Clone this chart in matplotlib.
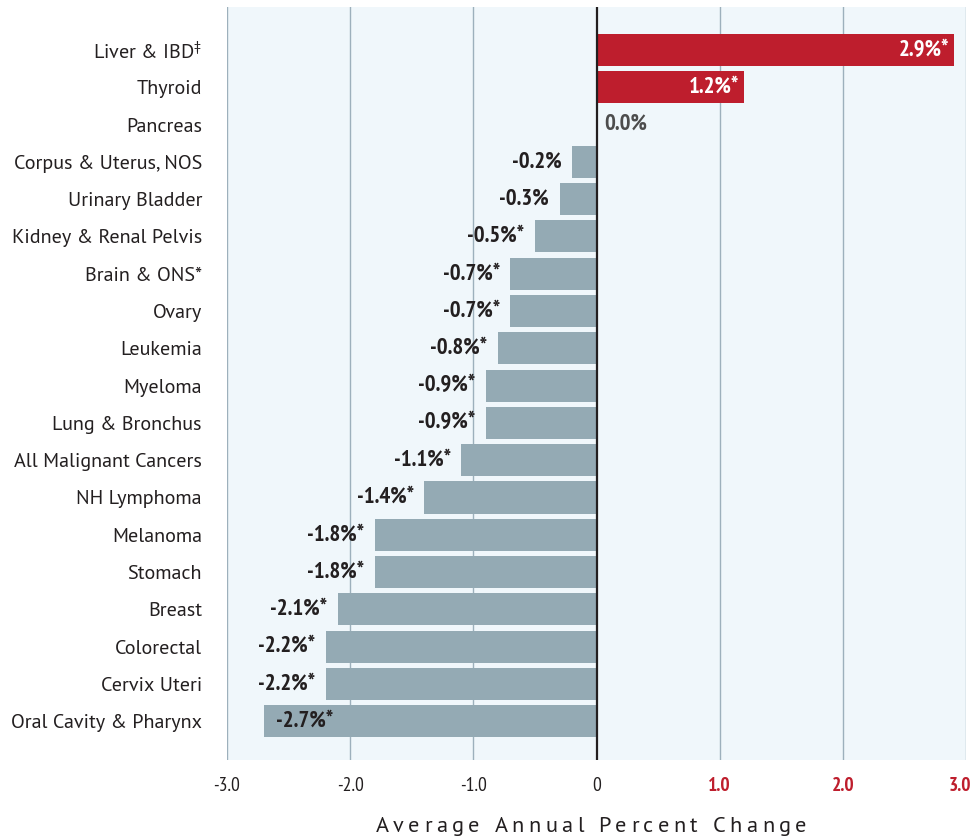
import matplotlib
matplotlib.use('Agg')
import matplotlib.pyplot as plt
from matplotlib import font_manager
from matplotlib.font_manager import FontProperties

# Data
categories = ['Liver & IBD$^{\u2021}$', 'Thyroid', 'Pancreas', 'Corpus & Uterus, NOS',
              'Urinary Bladder', 'Kidney & Renal Pelvis', 'Brain & ONS*', 'Ovary',
              'Leukemia', 'Myeloma', 'Lung & Bronchus', 'All Malignant Cancers',
              'NH Lymphoma', 'Melanoma', 'Stomach', 'Breast', 'Colorectal',
              'Cervix Uteri', 'Oral Cavity & Pharynx']
values = [2.9, 1.2, 0.0, -0.2, -0.3, -0.5, -0.7, -0.7, -0.8, -0.9, -0.9,
          -1.1, -1.4, -1.8, -1.8, -2.1, -2.2, -2.2, -2.7]
significant = [True, True, False, False, False, True, True, True, True, True, True,
               True, True, True, True, True, True, True, True]
xticks = [-3, -2, -1, 0, 1, 2, 3]
xtick_labels = ['-3.0', '-2.0', '-1.0', '0', '1.0', '2.0', '3.0']
xlabel = 'Average Annual Percent Change'

names = {f.name for f in font_manager.fontManager.ttflist}
candidates = ['Myriad Pro', 'PT Sans Narrow', 'Fira Sans Condensed', 'Open Sans Condensed',
              'Roboto Condensed', 'Liberation Sans Narrow', 'Archivo Narrow']
narrow = next((c for c in candidates if c in names), 'DejaVu Sans')
wide_candidates = ['Myriad Pro', 'PT Sans', 'Fira Sans', 'Open Sans']
wide = next((c for c in wide_candidates if c in names), 'DejaVu Sans')
plt.rcParams['font.family'] = [narrow, 'DejaVu Sans']
plt.rcParams['mathtext.fontset'] = 'custom'
plt.rcParams['mathtext.rm'] = wide
plt.rcParams['mathtext.it'] = wide
plt.rcParams['mathtext.default'] = 'rm'

red = '#BE1E2D'
gray_bar = '#94AAB4'
dark = '#231F20'
bg = '#F0F7FB'
grid_c = '#9DB0BC'

fig = plt.figure(figsize=(9.73, 8.38), dpi=100)
ax = fig.add_axes([227 / 973, (838 - 760) / 838, (966 - 227) / 973, (760 - 7) / 838])
ax.set_facecolor(bg)

y = list(range(len(categories)))
colors = [red if v > 0 else gray_bar for v in values]
ax.barh(y, values, height=0.86, color=colors, zorder=2)

for x in [-3, -2, -1, 1, 2, 3]:
    ax.axvline(x, color=grid_c, lw=1.0, zorder=1)
ax.axvline(0, color=dark, lw=1.6, zorder=3)

ax.set_xlim(-3.0, 3.0)
ax.set_ylim(19.04, -1.153)

# value labels
fs_val = 16.5
for yi, v, s in zip(y, values, significant):
    txt = f'{v:.1f}%' + ('*' if s else '')
    if v > 0:
        ax.text(v - 0.04, yi, txt, ha='right', va='center', color='white',
                fontsize=fs_val, fontweight='bold', zorder=4)
    elif v == 0:
        ax.text(0.06, yi, txt, ha='left', va='center', color='#4D4D4D',
                fontsize=fs_val, fontweight='bold', zorder=4)
    elif v <= -2.5:
        ax.text(v + 0.1, yi, txt, ha='left', va='center', color=dark,
                fontsize=fs_val, fontweight='bold', zorder=4)
    else:
        ax.text(v - 0.085, yi, txt, ha='right', va='center', color=dark,
                fontsize=fs_val, fontweight='bold', zorder=4)

ax.set_yticks(y)
ax.set_yticklabels(categories, fontsize=14.5, color=dark, family=[wide, 'DejaVu Sans'])
ax.set_xticks(xticks)
# the last label is drawn separately, nudged left so it stays inside the figure
ax.set_xticklabels(xtick_labels[:-1] + [''], fontsize=14)
for lbl, t in zip(ax.get_xticklabels(), xticks):
    if t > 0:
        lbl.set_color(red)
        lbl.set_fontweight('bold')
    else:
        lbl.set_color(dark)
ax.annotate(xtick_labels[-1], xy=(xticks[-1], 0), xycoords=ax.get_xaxis_transform(),
            xytext=(-4, -12), textcoords='offset points', ha='center', va='top',
            fontsize=14, fontweight='bold', color=red, annotation_clip=False)
ax.tick_params(axis='both', length=0)
ax.tick_params(axis='y', pad=18)
ax.tick_params(axis='x', pad=12)

for sp in ax.spines.values():
    sp.set_visible(False)

# x axis title with letter spacing, drawn char by char
renderer = fig.canvas.get_renderer()
prop = FontProperties(family=[wide, 'DejaVu Sans'], size=16)
track = 4.4  # extra px between letters
widths = []
for ch in xlabel:
    w, h, d = renderer.get_text_width_height_descent(ch if ch != ' ' else 'n', prop, ismath=False)
    if ch == ' ':
        w *= 0.5
    widths.append(w + track)
total = sum(widths) - track
x0 = (591 - total / 2)
yc = 838 - 826
for ch, w in zip(xlabel, widths):
    fig.text(x0 / 973, yc / 838, ch, fontproperties=prop, color=dark,
             ha='left', va='center')
    x0 += w

fig.savefig('out.png', dpi=100)
